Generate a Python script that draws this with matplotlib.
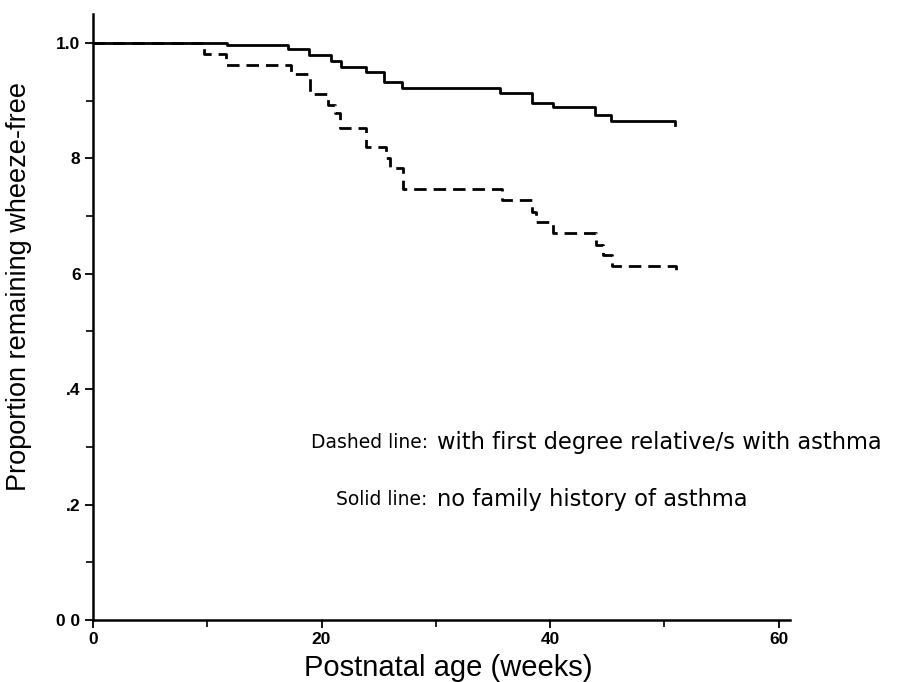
import matplotlib
matplotlib.use("Agg")
import matplotlib.pyplot as plt
from matplotlib.ticker import MultipleLocator

plt.rcParams['font.family'] = ['Liberation Sans', 'DejaVu Sans']
plt.rcParams['lines.scale_dashes'] = False

# Solid line: no family history of asthma (step times in weeks, survival after step)
solid_t = [0, 11.7, 17.1, 18.9, 20.8, 21.7, 23.9, 25.5, 27.0, 35.6, 38.4, 40.3, 43.9, 45.3, 50.9]
solid_s = [1.0, 0.997, 0.990, 0.979, 0.969, 0.959, 0.949, 0.933, 0.921, 0.913, 0.896, 0.889, 0.875, 0.864, 0.857]
solid_end = 50.9

# Dashed line: with first degree relative/s with asthma
dash_t = [0, 9.7, 11.6, 17.3, 19.0, 20.6, 21.2, 21.6, 23.9, 25.6, 26.0, 27.1, 35.8, 38.4, 38.8, 40.3, 44.0, 44.6, 45.4, 51.0]
dash_s = [1.0, 0.980, 0.962, 0.946, 0.912, 0.893, 0.878, 0.853, 0.819, 0.800, 0.783, 0.747, 0.728, 0.707, 0.689, 0.671, 0.650, 0.632, 0.613, 0.597]
dash_end = 51.0

y_ticks = [0.0, 0.2, 0.4, 0.6, 0.8, 1.0]
y_labels = ["0 0", ".2", ".4", "6", "8", "1.0"]
x_ticks = [0, 20, 40, 60]
x_labels = ["0", "20", "40", "60"]

fig = plt.figure(figsize=(9.06, 6.82), dpi=100)
ax = fig.add_axes([93/906, 62/682, 697/906, 606/682])

ax.step(solid_t + [solid_end], solid_s + [solid_s[-1]], where='post', color='black', lw=2.0)
ax.step(dash_t + [dash_end], dash_s + [dash_s[-1]], where='post', color='black', lw=2.0,
        linestyle=(0, (9, 5)))

ax.set_xlim(0, 61)
ax.set_ylim(0, 1.05)
for s in ['top', 'right']:
    ax.spines[s].set_visible(False)
for s in ['left', 'bottom']:
    ax.spines[s].set_linewidth(1.8)

ax.set_yticks(y_ticks)
ax.set_yticklabels(y_labels, fontsize=12.5, fontweight='bold')
ax.set_xticks(x_ticks)
ax.set_xticklabels(x_labels, fontsize=12.5, fontweight='bold')
ax.yaxis.set_minor_locator(MultipleLocator(0.1))
ax.xaxis.set_minor_locator(MultipleLocator(10))
ax.tick_params(axis='both', which='major', direction='out', length=6, width=1.3, pad=3)
ax.tick_params(axis='both', which='minor', direction='out', length=5, width=1.2)

ax.set_xlabel("Postnatal age (weeks)", fontsize=21)
ax.set_ylabel("Proportion remaining wheeze-free", fontsize=19.5)
ax.xaxis.set_label_coords(0.509, -0.056)
ax.yaxis.set_label_coords(-0.087, 0.55)

left_kw = dict(ha='right', va='center', fontsize=13.5, family=['DejaVu Sans'])
right_kw = dict(ha='left', va='center', fontsize=16.3, family=['DejaVu Sans'])
ax.text(29.3, 0.307, "Dashed line:", **left_kw)
ax.text(30.1, 0.307, "with first degree relative/s with asthma", **right_kw)
ax.text(29.3, 0.208, "Solid line:", **left_kw)
ax.text(30.1, 0.208, "no family history of asthma", **right_kw)

fig.savefig("out.png", dpi=100)
